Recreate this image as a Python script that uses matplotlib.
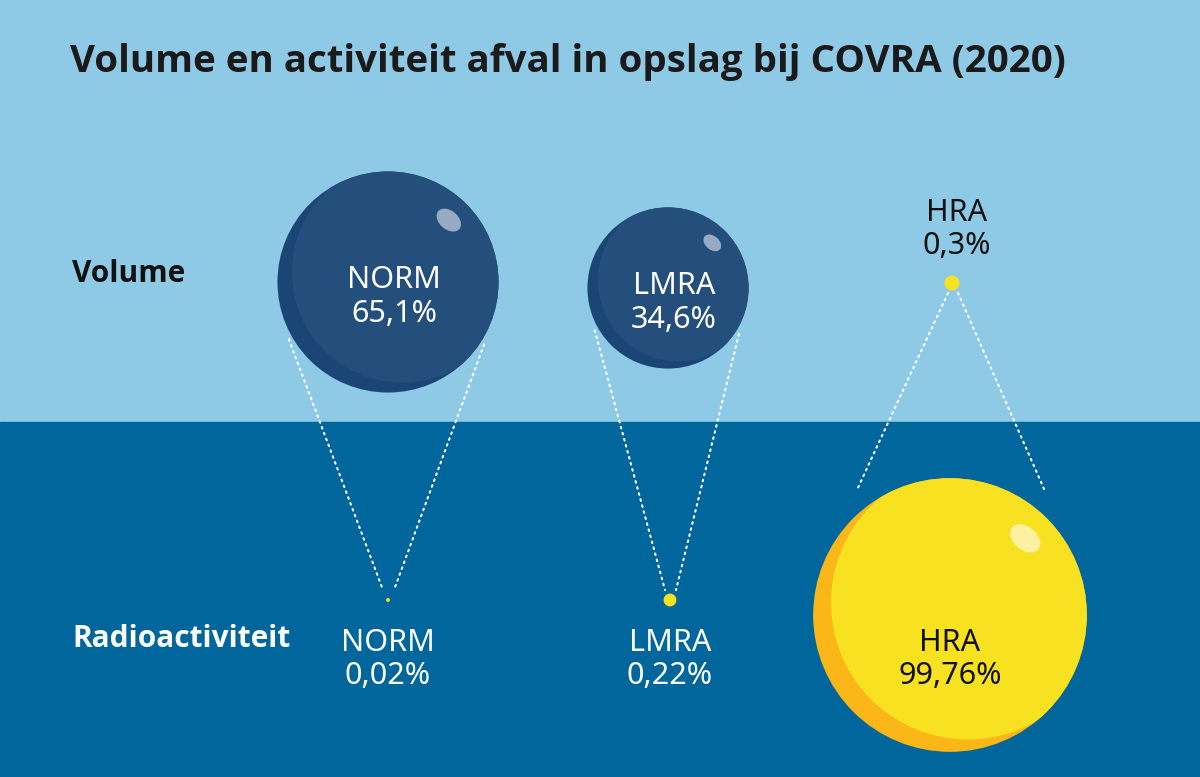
import numpy as np
import matplotlib.pyplot as plt
from matplotlib.patches import Circle, Ellipse, Rectangle

# data
categories = ['NORM', 'LMRA', 'HRA']
volume = [65.1, 34.6, 0.3]
activity = [0.02, 0.22, 99.76]
volume_labels = ['65,1%', '34,6%', '0,3%']
activity_labels = ['0,02%', '0,22%', '99,76%']

title = 'Volume en activiteit afval in opslag bij COVRA (2020)'
row_labels = ['Volume', 'Radioactiviteit']

# layout (pixels, y downwards)
W, H = 1200, 777
split = 422
top_x = [388, 668, 952]
top_y = [282, 288, 283]
bot_x = [388, 670, 950]
bot_y = [600, 600, 615]
k = 13.7  # px per sqrt(percent) -> area proportional

light_bg = '#8ecae6'
dark_bg = '#00669c'
blue_main = '#244f7d'
blue_shade = '#1b4575'
blue_hl = '#96aac3'
yel_main = '#f7e120'
yel_shade = '#fbb617'
yel_hl = '#fcf1a0'
body_font = 'Noto Sans'
fs = 22

fig = plt.figure(figsize=(12, 7.77), dpi=100)
ax = fig.add_axes([0, 0, 1, 1])
ax.set_xlim(0, W)
ax.set_ylim(H, 0)
ax.set_aspect('equal')
ax.axis('off')

ax.add_patch(Rectangle((0, 0), W, split, color=light_bg, zorder=0))
ax.add_patch(Rectangle((0, split), W, H - split, color=dark_bg, zorder=0))


def bubble(x, y, r, main, shade, hl):
    outer = Circle((x, y), r, color=shade, zorder=3, lw=0)
    ax.add_patch(outer)
    if r < 12:
        outer.set_color(main)
        return
    inner = Circle((x + 0.13 * r, y - 0.09 * r), r, color=main, zorder=4, lw=0)
    ax.add_patch(inner)
    inner.set_clip_path(outer)
    ax.add_patch(Ellipse((x + 0.55 * r, y - 0.56 * r), 0.25 * r, 0.17 * r,
                         angle=40, color=hl, zorder=5, lw=0))


def dotted(x0, y0, x1, y1):
    ax.plot([x0, x1], [y0, y1], color='white', lw=1.5,
            linestyle=(0, (0.8, 2.2)), dash_capstyle='round', zorder=2)


def label(x, y, s, color):
    ax.text(x, y, s, ha='center', va='baseline', fontsize=fs,
            color=color, family=body_font, zorder=7)


top_r = [k * np.sqrt(v) for v in volume]
bot_r = [k * np.sqrt(v) for v in activity]

for i, cat in enumerate(categories):
    # connecting dotted lines
    if volume[i] > activity[i]:
        R = top_r[i] + 4
        for ang, dx in [(210, -5), (327, 6)]:
            a = np.radians(ang)
            dotted(top_x[i] + R * np.cos(a), top_y[i] - R * np.sin(a),
                   bot_x[i] + dx, bot_y[i] - 10)
    else:
        R = bot_r[i] + 20
        for ang, dx in [(126, -4), (53, 6)]:
            a = np.radians(ang)
            dotted(top_x[i] + dx, top_y[i] + 10,
                   bot_x[i] + R * np.cos(a), bot_y[i] - R * np.sin(a))

    # volume bubble
    if cat == 'HRA':
        bubble(top_x[i], top_y[i], top_r[i], yel_main, yel_shade, yel_hl)
        label(top_x[i] + 5, 221, cat, '#111111')
        label(top_x[i] + 5, 254, volume_labels[i], '#111111')
    else:
        bubble(top_x[i], top_y[i], top_r[i], blue_main, blue_shade, blue_hl)
        label(top_x[i] + 6, top_y[i] + 6, cat, 'white')
        label(top_x[i] + 6, top_y[i] + 40, volume_labels[i], 'white')

    # activity bubble
    bubble(bot_x[i], bot_y[i], bot_r[i], yel_main, yel_shade, yel_hl)
    if cat == 'HRA':
        label(bot_x[i], 651, cat, '#111111')
        label(bot_x[i], 684, activity_labels[i], '#111111')
    else:
        label(bot_x[i], 651, cat, 'white')
        label(bot_x[i], 684, activity_labels[i], 'white')

ax.text(70, 72, title, ha='left', va='baseline', fontsize=27.7,
        fontweight='bold', color='#1a1a1a', family='Open Sans')
ax.text(72, 282, row_labels[0], ha='left', va='baseline', fontsize=21.5,
        fontweight='bold', color='#111111', family='Open Sans')
ax.text(72, 647, row_labels[1], ha='left', va='baseline', fontsize=21.5,
        fontweight='bold', color='white', family='Open Sans')

fig.savefig('out.png', dpi=100)
